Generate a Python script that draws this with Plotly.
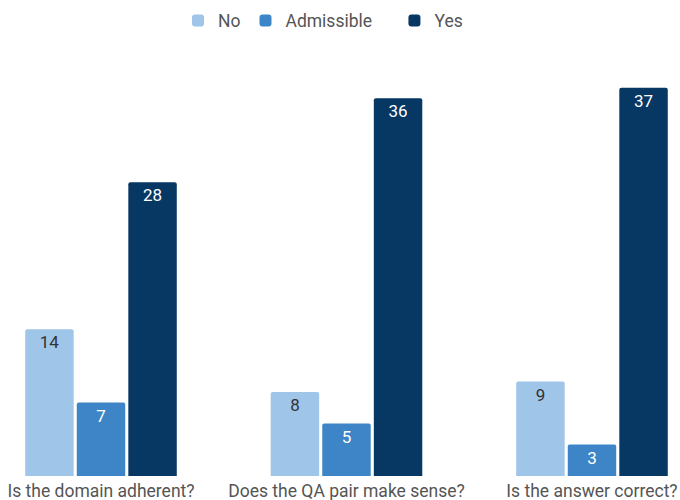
import plotly.graph_objects as go

categories = ["Is the domain adherent?", "Does the QA pair make sense?", "Is the answer correct?"]
no_vals = [14, 8, 9]
admissible_vals = [7, 5, 3]
yes_vals = [28, 36, 37]
legend_names = ["No", "Admissible\u00a0\u00a0\u00a0\u00a0", "Yes"]

series = [
    (legend_names[0], no_vals, "#9fc5e8", "#333333"),
    (legend_names[1], admissible_vals, "#3d85c6", "#ffffff"),
    (legend_names[2], yes_vals, "#073763", "#ffffff"),
]

fig = go.Figure()
for name, vals, color, tcolor in series:
    fig.add_trace(go.Bar(
        name=name, x=categories, y=vals,
        marker=dict(color=color, line=dict(width=0)),
        text=vals, textposition="inside", insidetextanchor="end",
        textfont=dict(family="Roboto", size=17, color=tcolor),
        textangle=0, cliponaxis=False,
    ))

fig.update_layout(
    width=680, height=500,
    margin=dict(l=0, r=0, t=60, b=24),
    paper_bgcolor="white", plot_bgcolor="white",
    barmode="group", bargap=0.37, bargroupgap=0.06,
    barcornerradius=2,
    font=dict(family="Roboto", size=17.5, color="#555555"),
    showlegend=True,
    legend=dict(orientation="h", x=0.475, xanchor="center", y=0.995, yanchor="top",
                yref="container", font=dict(size=17.5, color="#555555")),
    uniformtext=dict(mode=False),
)
fig.update_xaxes(range=[-0.4114, 2.3585], showgrid=False, showline=False, ticks="",
                 automargin=False, ticklabelstandoff=2,
                 tickfont=dict(size=17.5, color="#555555"))
fig.update_yaxes(range=[0, 416 / 10.49], visible=False, showgrid=False)

fig.write_html("out.html")
